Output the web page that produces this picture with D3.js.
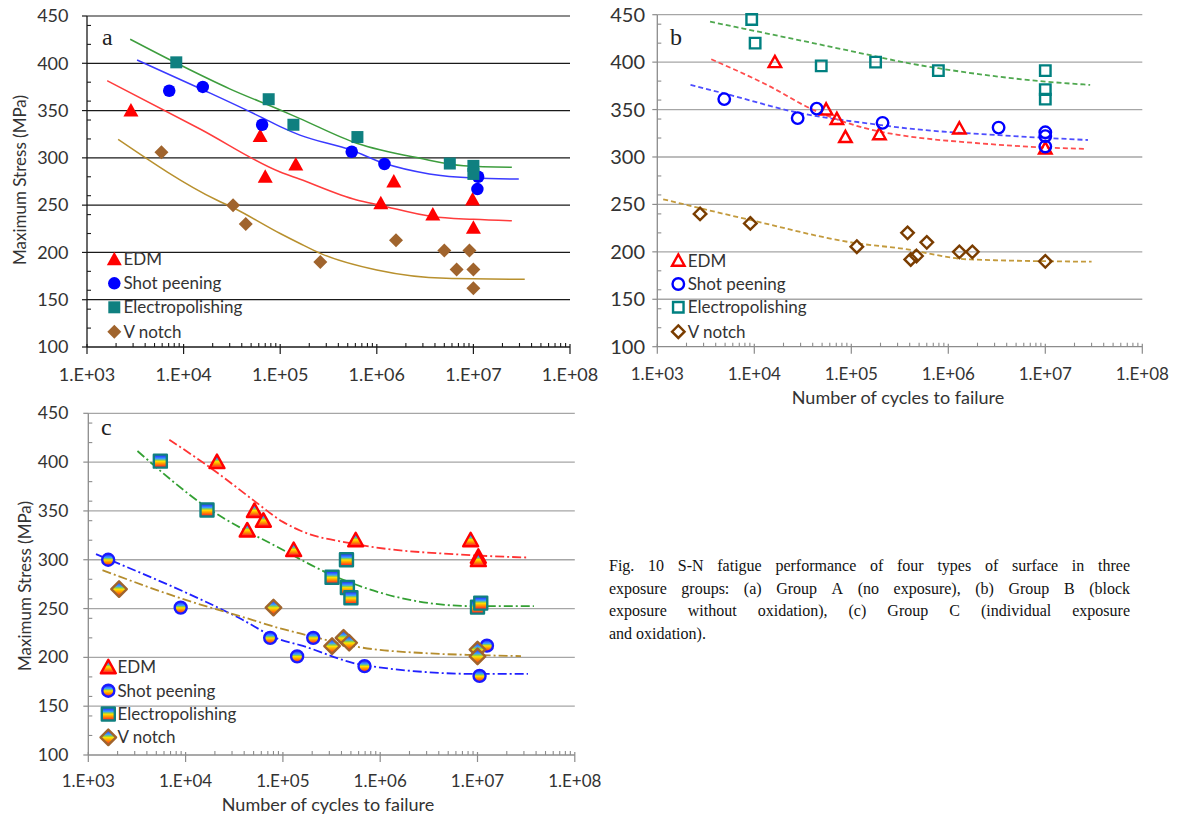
<!DOCTYPE html>
<html><head><meta charset="utf-8">
<script src="https://cdn.jsdelivr.net/npm/d3@7"></script>
<style>
html,body{margin:0;padding:0;background:#fff;}
svg{display:block;}
text.sans{font-family:Lato,"Open Sans",sans-serif;}
text.serif{font-family:"Liberation Serif","Times New Roman",serif;}
</style></head>
<body><svg id="chart" width="1178" height="819"></svg>
<script>
// ---------------- DATA ----------------
const xTickValues = [1e3, 1e4, 1e5, 1e6, 1e7, 1e8];
const xTickLabels = ["1.E+03", "1.E+04", "1.E+05", "1.E+06", "1.E+07", "1.E+08"];
const yTickValues = [100, 150, 200, 250, 300, 350, 400, 450];
const seriesNames = ["EDM", "Shot peening", "Electropolishing", "V notch"];
const panelLabels = ["a", "b", "c"];
const yAxisTitle = "Maximum Stress (MPa)";
const xAxisTitle = "Number of cycles to failure";
const captionLines = [
  "Fig. 10 S-N fatigue performance of four types of surface in three",
  "exposure groups: (a) Group A (no exposure), (b) Group B (block",
  "exposure without oxidation), (c) Group C (individual exposure",
  "and oxidation)."
];

// Panel a : Group A (no exposure) — [cycles, MPa]
const a_EDM = [[2.85e3,350],[6.2e4,323],[7e4,280],[1.45e5,293],[1.1e6,252],[1.5e6,275],[3.8e6,240],[9.8e6,256],[1e7,226]];
const a_SP  = [[7.1e3,371],[1.58e4,375],[6.5e4,335],[5.5e5,306.5],[1.2e6,293.5],[1.12e7,280],[1.1e7,267]];
const a_EP  = [[8.4e3,401],[7.6e4,362],[1.37e5,335],[6.3e5,322],[5.7e6,294],[1e7,291.5],[1e7,283]];
const a_VN  = [[5.9e3,306],[3.25e4,250],[4.4e4,230],[2.6e5,190],[1.58e6,213],[5e6,202],[9.1e6,202],[6.7e6,182],[1e7,182],[1e7,162]];
// Panel a trend lines
const a_EDM_trend = [[1.62e3,381.6],[1.48e4,330.5],[1e5,285],[1.58e5,277.6],[6.2e5,255.4],[1.07e6,250],[3.7e6,238],[1e7,235],[2.5e7,233.5]];
const a_SP_trend  = [[3.3e3,403.5],[1.58e4,372],[6.5e4,342.5],[1e5,333],[1.6e5,324],[5.5e5,308],[1.17e6,294.5],[3.5e6,283],[1e7,278.7],[2.95e7,277.6]];
const a_EP_trend  = [[2.8e3,425.4],[8.5e3,400],[3e4,373],[1e5,350.6],[1.58e5,341.8],[6.2e5,315.4],[2.8e6,299.5],[7.9e6,291.7],[2.5e7,290]];
const a_VN_trend  = [[2.1e3,319.6],[2.2e4,255.4],[3.3e4,247],[1e5,220],[1.58e5,209.7],[2.6e5,199],[1e6,181.4],[5.2e6,172.6],[3.4e7,171.6]];

// Panel b : Group B (block exposure without oxidation)
const b_EDM = [[1.63e4,400],[5.5e4,350],[7.1e4,340],[8.7e4,321],[1.95e5,324],[1.3e6,330],[1e7,309]];
const b_SP  = [[4.9e3,361],[2.8e4,341],[4.4e4,351],[2.1e5,336],[3.3e6,331],[1e7,326],[1e7,322],[1e7,311]];
const b_EP  = [[9.4e3,445],[1.02e4,420],[4.9e4,396],[1.78e5,400],[7.9e5,391],[1e7,391],[1e7,371],[1e7,361]];
const b_VN  = [[2.76e3,240],[9.1e3,230],[1.14e5,205.4],[3.8e5,220],[4.1e5,192],[4.7e5,195.6],[6e5,210],[1.3e6,200],[1.77e6,200],[1e7,190]];
const b_EDM_trend = [[3.6e3,403],[1.35e4,376],[4e4,350],[2e5,326.6],[3.2e5,323],[2.1e6,314.4],[1e7,310],[2.6e7,308.6]];
const b_SP_trend  = [[2.2e3,376],[4.9e3,367],[2.8e4,346.8],[2e5,333.7],[3.2e5,331],[3.3e6,323],[2.75e7,317.9]];
const b_EP_trend  = [[3.5e3,442.6],[2e5,405],[3.2e5,400.5],[7.9e5,393.6],[1e7,379.5],[2.9e7,376]];
const b_VN_trend  = [[1.15e3,255.4],[9.1e3,233.6],[1.15e5,209],[3.2e5,203.7],[1.66e6,192],[3e7,189.6]];

// Panel c : Group C (individual exposure and oxidation)
const c_EDM = [[2.1e4,400],[5.1e4,350],[6.3e4,340],[4.3e4,330],[1.29e5,310],[5.6e5,320],[8.5e6,320],[1.02e7,303],[1.02e7,299.6]];
const c_SP  = [[1.6e3,300],[8.9e3,251],[7.4e4,220],[1.4e5,201],[2.05e5,220],[6.9e5,191],[1.05e7,181],[1.25e7,212]];
const c_EP  = [[5.5e3,401],[1.66e4,351],[4.5e5,300],[3.2e5,282],[4.6e5,271.6],[5e5,261],[1e7,251.5],[1.08e7,255.6]];
const c_VN  = [[2.07e3,270],[8e4,251],[3.2e5,211.5],[4.2e5,220],[4.8e5,215],[1e7,208],[1e7,201]];
const c_EDM_trend = [[6.8e3,423],[2.1e4,389.4],[5e4,360.8],[1e5,338.8],[1.5e5,330],[5.6e5,316],[8.5e6,304.7],[3.2e7,302.3]];
const c_SP_trend  = [[1.2e3,305.7],[3.6e4,240],[9.3e4,218.4],[1.5e5,212.6],[6.8e5,192],[1.05e7,183],[3.3e7,183]];
const c_EP_trend  = [[3.2e3,411.4],[1.66e4,353.5],[9.4e4,311.5],[3.1e5,284.9],[4.6e5,277.8],[1.9e6,259.4],[9.2e6,252.5],[3.8e7,252.5]];
const c_VN_trend  = [[1.4e3,289.3],[1.02e4,258.6],[5e4,238],[9.3e4,229.7],[1.5e5,224.5],[5.8e5,210.8],[3.3e6,204],[1.05e7,202.3],[2.8e7,201.3]];

// ---------------- LAYOUT / STYLE ----------------
const shapes = ["triangle", "circle", "square", "diamond"];
const panels = [
  { label: panelLabels[0], series: [a_EDM, a_SP, a_EP, a_VN], trends: [a_EDM_trend, a_SP_trend, a_EP_trend, a_VN_trend],
    xr: [87, 570], yr: [347, 16], gridColor: "#1a1a1a", gridW: 1.2, axisColor: "#1a1a1a",
    markerMode: "filled", markerColors: ["#ff0000", "#0000ff", "#0f8080", "#a0642d"], sizes: [15, 12.5, 12, 14],
    lineColors: ["#ff3c3c", "#3a3aff", "#3d9d3d", "#b8902e"], dash: null,
    yFont: 18, yLabelEnd: 68.5, xFont: 18, xLabelY: 374.5,
    yTitle: { x: 20, y: 180 }, xTitle: null, letter: { x: 102, y: 45, size: 24 },
    legend: { mx: 114.3, tx: 123.5, ys: [259.3, 283.3, 307.3, 331.7] } },
  { label: panelLabels[1], series: [b_EDM, b_SP, b_EP, b_VN], trends: [b_EDM_trend, b_SP_trend, b_EP_trend, b_VN_trend],
    xr: [657.3, 1142.3], yr: [346.7, 14.7], gridColor: "#a6a6a6", gridW: 1.3, axisColor: "#8c8c8c",
    markerMode: "hollow", markerColors: ["#ff0000", "#0000ff", "#008080", "#7a3d00"], sizes: [12.5, 11.5, 10.5, 12.5],
    lineColors: ["#ff4d4d", "#4d4dff", "#4fa84f", "#c39a3c"], dash: "5,3",
    yFont: 20, yLabelEnd: 645, xFont: 17, xLabelY: 374,
    yTitle: null, xTitle: { x: 898, y: 398 }, letter: { x: 670, y: 45, size: 24 },
    legend: { mx: 678.3, tx: 687.7, ys: [260.7, 284, 307.3, 331.7] } },
  { label: panelLabels[2], series: [c_EDM, c_SP, c_EP, c_VN], trends: [c_EDM_trend, c_SP_trend, c_EP_trend, c_VN_trend],
    xr: [88.3, 574.8], yr: [755, 413.3], gridColor: "#a6a6a6", gridW: 1.3, axisColor: "#8c8c8c",
    markerMode: "rainbow", markerColors: ["#ff0000", "#1a1aff", "#108080", "#a0642d"], sizes: [15, 12, 13, 15.5],
    lineColors: ["#ff3333", "#2020ff", "#33a033", "#b58d2e"], dash: "9,3,2,3",
    yFont: 17.5, yLabelEnd: 68.3, xFont: 17, xLabelY: 781,
    yTitle: { x: 25, y: 586 }, xTitle: { x: 328, y: 805 }, letter: { x: 101, y: 435, size: 24 },
    legend: { mx: 108.3, tx: 117.5, ys: [667.3, 690.7, 714, 737.3] } }
];

const svg = d3.select("#chart");
const defs = svg.append("defs");
const grad = defs.append("linearGradient").attr("id", "rainbow").attr("x1", 0).attr("y1", 0).attr("x2", 0).attr("y2", 1);
[[0.1, "#2b3dff"], [0.32, "#3aa0ff"], [0.42, "#8ad24a"], [0.52, "#ffe200"], [0.72, "#ff8c00"], [0.92, "#ff2a2a"]]
  .forEach(s => grad.append("stop").attr("offset", s[0]).attr("stop-color", s[1]));

function shapePath(shape, s) {
  const h = s / 2;
  switch (shape) {
    case "triangle": return `M0,${-h * 1.0}L${h},${h * 0.8}L${-h},${h * 0.8}Z`;
    case "circle": return `M${h},0A${h},${h} 0 1,1 ${-h},0A${h},${h} 0 1,1 ${h},0Z`;
    case "square": return `M${-h},${-h}H${h}V${h}H${-h}Z`;
    case "diamond": return `M0,${-h}L${h},0L0,${h}L${-h},0Z`;
  }
}

function drawMarker(g, p, i, cx, cy) {
  const path = g.append("path").attr("d", shapePath(shapes[i], p.sizes[i]))
    .attr("transform", `translate(${cx},${cy})`);
  if (p.markerMode === "filled") {
    path.attr("fill", p.markerColors[i]);
  } else if (p.markerMode === "hollow") {
    path.attr("fill", "none").attr("stroke", p.markerColors[i]).attr("stroke-width", 2.4);
  } else {
    path.attr("fill", "url(#rainbow)").attr("stroke", p.markerColors[i]).attr("stroke-width", 2.4)
      .attr("stroke-linejoin", "round");
  }
}

function drawPanel(p) {
  const x = d3.scaleLog().domain([1e3, 1e8]).range(p.xr);
  const y = d3.scaleLinear().domain([100, 450]).range(p.yr);
  const g = svg.append("g");
  const x0 = p.xr[0], x1 = p.xr[1], yb = p.yr[0];

  // horizontal gridlines
  g.selectAll(".grid").data(yTickValues.filter(v => v > 100)).join("line")
    .attr("x1", x0).attr("x2", x1).attr("y1", d => y(d)).attr("y2", d => y(d))
    .attr("stroke", p.gridColor).attr("stroke-width", p.gridW);

  // y axis line + ticks
  g.append("line").attr("x1", x0).attr("x2", x0).attr("y1", y(450)).attr("y2", yb)
    .attr("stroke", p.axisColor).attr("stroke-width", 1.3);
  g.selectAll(".ymaj").data(yTickValues).join("line")
    .attr("x1", x0 - 5).attr("x2", x0).attr("y1", d => y(d)).attr("y2", d => y(d))
    .attr("stroke", p.axisColor).attr("stroke-width", 1.2);
  const yMinor = d3.range(120, 450, 20).filter(v => v % 50 !== 0);
  g.selectAll(".ymin").data(yMinor).join("line")
    .attr("x1", x0).attr("x2", x0 + 4).attr("y1", d => y(d)).attr("y2", d => y(d))
    .attr("stroke", p.axisColor).attr("stroke-width", 1.1);
  g.selectAll(".ylab").data(yTickValues).join("text").attr("class", "sans")
    .attr("x", p.yLabelEnd).attr("y", d => y(d)).attr("dy", "0.35em")
    .attr("text-anchor", "end").attr("font-size", p.yFont).attr("fill", "#333")
    .text(d => d);

  // x axis
  g.append("line").attr("x1", x0).attr("x2", x1).attr("y1", yb).attr("y2", yb)
    .attr("stroke", p.axisColor).attr("stroke-width", 1.3);
  g.selectAll(".xmaj").data(xTickValues).join("line")
    .attr("x1", d => x(d)).attr("x2", d => x(d)).attr("y1", yb - 3).attr("y2", yb + 7)
    .attr("stroke", p.axisColor).attr("stroke-width", 1.2);
  const xMinor = [];
  xTickValues.slice(0, -1).forEach(v => { for (let k = 2; k <= 9; k++) xMinor.push(v * k); });
  g.selectAll(".xmin").data(xMinor).join("line")
    .attr("x1", d => x(d)).attr("x2", d => x(d)).attr("y1", yb - 4).attr("y2", yb)
    .attr("stroke", p.axisColor).attr("stroke-width", 1.1);
  g.selectAll(".xlab").data(xTickValues).join("text").attr("class", "sans")
    .attr("x", d => x(d)).attr("y", p.xLabelY).attr("dy", "0.35em")
    .attr("text-anchor", "middle").attr("font-size", p.xFont).attr("fill", "#333")
    .text((d, i) => xTickLabels[i]);

  // trend lines
  const line = d3.line().x(d => x(d[0])).y(d => y(d[1])).curve(d3.curveMonotoneX);
  p.trends.forEach((t, i) => {
    const path = g.append("path").datum(t).attr("d", line).attr("fill", "none")
      .attr("stroke", p.lineColors[i]).attr("stroke-width", p.dash ? 1.8 : 1.5);
    if (p.dash) path.attr("stroke-dasharray", p.dash);
  });

  // markers
  p.series.forEach((s, i) => {
    s.forEach(d => drawMarker(g, p, i, x(d[0]), y(d[1])));
  });

  // legend
  seriesNames.forEach((name, i) => {
    drawMarker(g, p, i, p.legend.mx, p.legend.ys[i]);
    g.append("text").attr("class", "sans").attr("x", p.legend.tx).attr("y", p.legend.ys[i]).attr("dy", "0.35em")
      .attr("font-size", 17).attr("fill", "#333").text(name);
  });

  // panel letter
  g.append("text").attr("class", "serif").attr("x", p.letter.x).attr("y", p.letter.y)
    .attr("font-size", p.letter.size).attr("fill", "#222").text(p.label);

  // axis titles
  if (p.yTitle) {
    g.append("text").attr("class", "sans").attr("transform", `translate(${p.yTitle.x},${p.yTitle.y}) rotate(-90)`)
      .attr("dy", "0.35em").attr("text-anchor", "middle").attr("font-size", 17).attr("fill", "#333")
      .text(yAxisTitle);
  }
  if (p.xTitle) {
    g.append("text").attr("class", "sans").attr("x", p.xTitle.x).attr("y", p.xTitle.y).attr("dy", "0.35em")
      .attr("text-anchor", "middle").attr("font-size", 18).attr("fill", "#333")
      .text(xAxisTitle);
  }
}

panels.forEach(drawPanel);

// caption (justified)
const cap = svg.append("g");
const capX0 = 609, capX1 = 1130, capY0 = 571, capDY = 22.7;
captionLines.forEach((ln, li) => {
  const words = ln.split(" ");
  const yy = capY0 + li * capDY;
  const nodes = words.map(w => cap.append("text").attr("class", "serif").attr("y", yy)
    .attr("font-size", 16).attr("fill", "#111").text(w));
  const widths = nodes.map(n => n.node().getComputedTextLength());
  const total = d3.sum(widths);
  const justify = li < captionLines.length - 1;
  const gap = justify ? (capX1 - capX0 - total) / (words.length - 1) : 4;
  let cx = capX0;
  nodes.forEach((n, k) => { n.attr("x", cx); cx += widths[k] + gap; });
});
</script>
</body></html>
